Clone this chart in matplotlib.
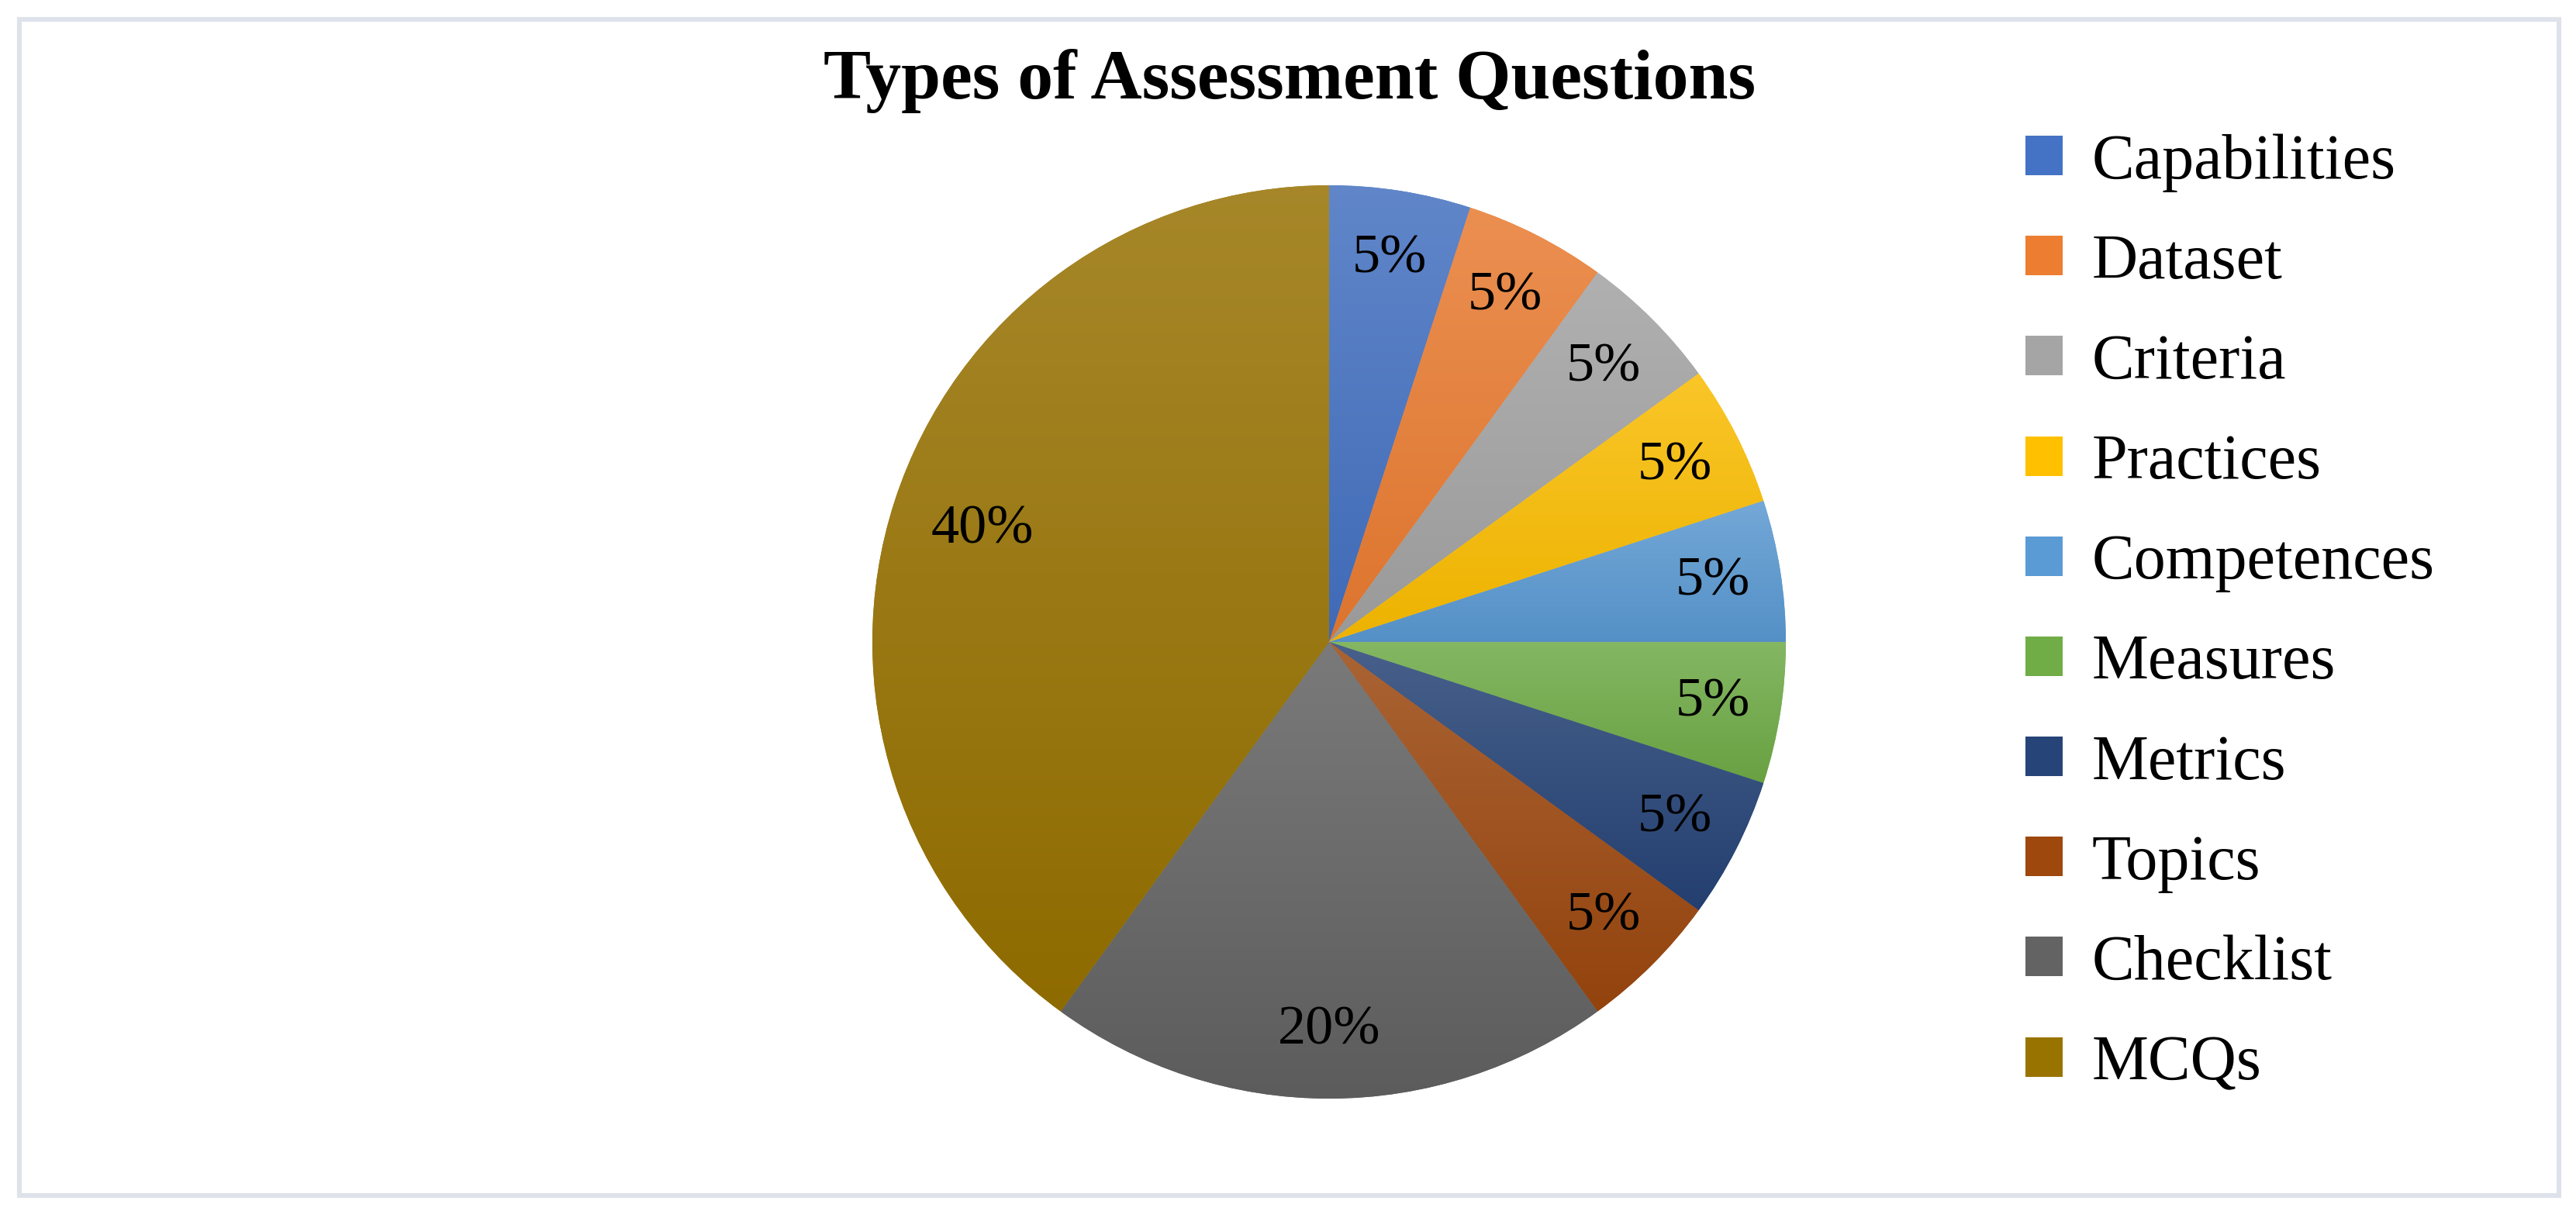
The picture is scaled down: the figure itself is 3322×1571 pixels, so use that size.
import numpy as np
import matplotlib
matplotlib.use('Agg')
import matplotlib.pyplot as plt
import matplotlib.colors as mcolors
from matplotlib.patches import Rectangle

plt.rcParams['font.family'] = ['Liberation Serif', 'DejaVu Serif']

# chart data
labels = ['Capabilities', 'Dataset', 'Criteria', 'Practices', 'Competences',
          'Measures', 'Metrics', 'Topics', 'Checklist', 'MCQs']
shares = [5, 5, 5, 5, 5, 5, 5, 5, 20, 40]
colors = ['#4472C4', '#ED7D31', '#A5A5A5', '#FFC000', '#5B9BD5',
          '#70AD47', '#264478', '#9E480E', '#636363', '#997300']
title = 'Types of Assessment Questions'

W, H, dpi = 3322, 1571, 200
fig = plt.figure(figsize=(W / dpi, H / dpi), dpi=dpi)
fig.patch.set_facecolor('white')

# pie axes: centre (1714, 828) px, radius 589 px
L = 1.05
side = 2 * L * 589
cx, cy = 1714, H - 828
ax = fig.add_axes([(cx - side / 2) / W, (cy - side / 2) / H, side / W, side / H])

wedges, texts, autotexts = ax.pie(shares, colors=colors, startangle=90, counterclock=False,
                                  autopct='%1.0f%%', pctdistance=0.85,
                                  wedgeprops=dict(linewidth=0),
                                  textprops=dict(fontsize=26, color='black'))

# the big slice label sits a little further in
x, y = autotexts[-1].get_position()
autotexts[-1].set_position((x * 0.94, y * 0.94))

# vertical gradient per wedge, lighter at top
grad = np.linspace(0, 1, 256).reshape(-1, 1)
for w, c in zip(wedges, colors):
    base = np.array(mcolors.to_rgb(c))
    top = base * 0.82 + 0.16
    bottom = base * 0.93
    cmap = mcolors.LinearSegmentedColormap.from_list('g', [bottom, top])
    bb = w.get_path().get_extents()
    im = ax.imshow(grad, cmap=cmap, origin='lower', aspect='auto',
                   extent=[bb.x0, bb.x1, bb.y0, bb.y1], zorder=1.5)
    im.set_clip_path(w)

ax.set_xlim(-L, L)
ax.set_ylim(-L, L)
ax.set_aspect('equal')
ax.axis('off')

fig.text(1663 / W, 1 - 104 / H, title, fontsize=33, fontweight='bold',
         ha='center', va='center')

fig.legend(wedges, labels, loc='upper left', bbox_to_anchor=(2612 / W, 1 - 172 / H),
           frameon=False, fontsize=29.5, handlelength=0.58, handleheight=0.58,
           handletextpad=0.46, labelspacing=0.655, borderpad=0, borderaxespad=0)

# outer light border
fig.patches.append(Rectangle((25 / W, 29 / H), 3275 / W, 1517 / H, transform=fig.transFigure,
                             fill=False, edgecolor='#dee2ea', linewidth=2.2))

fig.savefig('out.png', dpi=dpi, facecolor='white')
